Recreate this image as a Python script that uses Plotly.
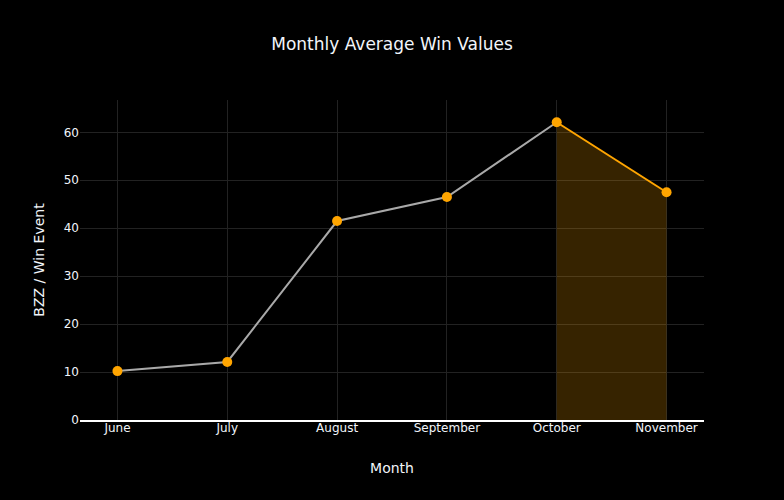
import plotly.graph_objects as go

months = ["June", "July", "August", "September", "October", "November"]
avg_win = [10.2, 12.1, 41.5, 46.5, 62.1, 47.5]

fig = go.Figure()
fig.add_trace(go.Scatter(
    x=months[:5], y=avg_win[:5], mode="lines",
    line=dict(color="#a9a9a9", width=2), showlegend=False, hoverinfo="skip"))
fig.add_trace(go.Scatter(
    x=months[4:], y=avg_win[4:], mode="lines", fill="tozeroy",
    fillcolor="rgba(255,165,0,0.21)",
    line=dict(color="#FFA500", width=2), showlegend=False, hoverinfo="skip"))
fig.add_trace(go.Scatter(
    x=months, y=avg_win, mode="markers",
    marker=dict(color="#FFA500", size=10), showlegend=False))

fig.update_layout(
    template="plotly_dark",
    width=784, height=500,
    font=dict(family="DejaVu Sans"),
    paper_bgcolor="black", plot_bgcolor="black",
    title=dict(text="Monthly Average Win Values", x=0.5, xanchor="center",
               font=dict(size=17)),
    margin=dict(l=80, r=80, t=100, b=80),
    xaxis=dict(title=dict(text="Month", standoff=29), gridcolor="#222222",
               showline=True, linecolor="white", linewidth=1.5, zeroline=False,
               ticklabelstandoff=-4),
    yaxis=dict(title=dict(text="BZZ / Win Event"), gridcolor="#222222",
               zeroline=False, rangemode="tozero"),
)
fig.write_html("out.html", config={"displayModeBar": False},
               post_script="document.body.style.margin='0';")
